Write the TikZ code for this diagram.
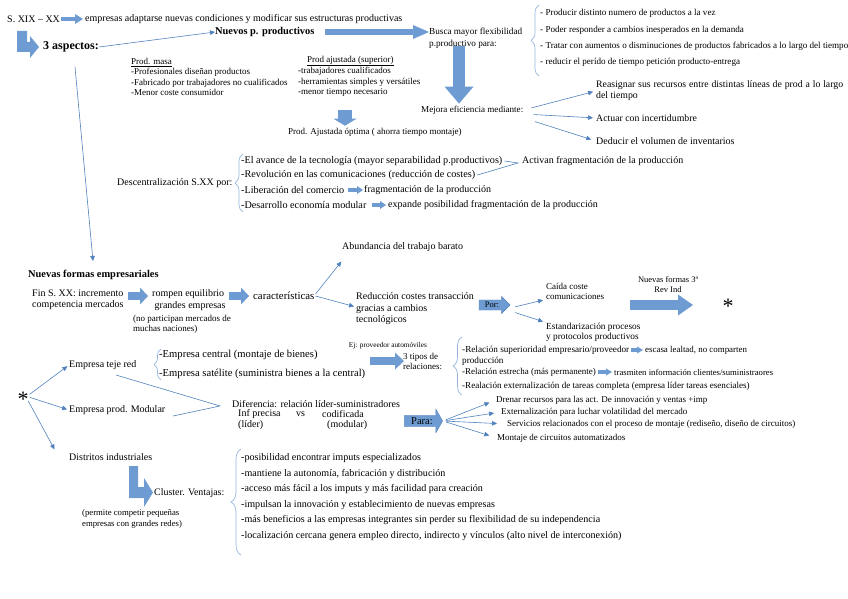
\documentclass[tikz,border=0pt]{standalone}
\usepackage{fontspec}
\setmainfont{Liberation Serif}
\usetikzlibrary{arrows.meta, shapes.arrows, decorations.pathreplacing, calc}
\definecolor{arrowblue}{RGB}{110,156,210}
\definecolor{lineblue}{RGB}{79,129,189}
\definecolor{bracecol}{RGB}{150,180,222}

\begin{document}
\begin{tikzpicture}[x=1pt, y=-1pt,
    txt/.style={anchor=west, inner sep=0pt, align=left, font=\fontsize{10}{11.5}\selectfont},
    sml/.style={txt, font=\fontsize{9}{10.3}\selectfont},
    hd/.style={txt, font=\bfseries\fontsize{10.4}{12}\selectfont},
    fat/.style n args={3}{draw=arrowblue, line width=#1pt, -{Triangle[width=#2pt, length=#3pt, line width=0pt]}},
    thin/.style={draw=lineblue, line width=0.6pt, -{Triangle[width=4.5pt, length=5pt]}},
    brc/.style={draw=bracecol, line width=0.7pt, decorate, decoration={brace, amplitude=#1pt}},
    blk/.style={single arrow, fill=arrowblue, draw=lineblue, line width=0.4pt, inner sep=2pt}]
    \useasboundingbox (0,0) rectangle (848,599);

    % S. XIX - XX
    \node[txt] (sxix) at (7,19) {S. XIX – XX};
    \node[txt] (empr) at (85,19) {empresas adaptarse nuevas condiciones y modificar sus estructuras productivas};
    \draw[fat={4}{10}{8}, shorten <=1pt, shorten >=2pt] (sxix.east) -- (empr.west);
    \fill[arrowblue] (17,31) -- (27,31) -- (27,42) -- (30,42) -- (30,36) -- (39,47) -- (30,58) -- (30,52) -- (17,52) -- cycle;
    \node[txt, font=\bfseries\fontsize{12}{13}\selectfont] (aspectos) at (43,47) {3 aspectos:};
    \node[hd] (nuevos) at (215,32) {Nuevos p. productivos};
    \draw[thin] (aspectos.east) -- (nuevos.west);

    % flexibilidad
    \node[txt, font=\fontsize{9.2}{12}\selectfont] (busca) at (429,38) {Busca mayor flexibilidad\\p.productivo para:};
    \draw[fat={6.5}{14}{16}, shorten <=10pt] (nuevos.east) -- (nuevos.east -| busca.west);
    \node[txt, font=\fontsize{9.1}{16.3}\selectfont] (flex) at (540,38) {- Producir distinto numero de productos a la vez\\- Poder responder a cambios inesperados en la demanda\\- Tratar con aumentos o disminuciones de productos fabricados a lo largo del tiempo\\- reducir el perído de tiempo petición producto-entrega};
    \draw[brc=8] (539,76) -- (539,5);

    \node[txt, font=\fontsize{9.1}{10.5}\selectfont] (mejora) at (421,110) {Mejora eficiencia mediante:};
    \coordinate (dn) at (459,0);
    \draw[fat={12}{29}{17}, shorten <=-2pt, shorten >=2pt] (busca.south -| dn) -- (mejora.north -| dn);
    \node[txt, font=\fontsize{9.8}{11}\selectfont, text width=247pt, align=justify] (reasig) at (596,91) {Reasignar sus recursos entre distintas líneas de prod a lo largo del tiempo};
    \node[txt, font=\fontsize{9.8}{11}\selectfont] (actuar) at (596,118) {Actuar con incertidumbre};
    \node[txt, font=\fontsize{10}{11}\selectfont] (deducir) at (596,141) {Deducir el volumen de inventarios};
    \draw[thin, shorten <=8pt, shorten >=3pt] (mejora.east) -- (reasig.west);
    \draw[thin, shorten <=10pt, shorten >=3pt] ($(mejora.east)+(0,4)$) -- (actuar.west);
    \draw[thin, shorten <=12pt, shorten >=5pt] ($(mejora.east)+(0,8)$) -- (deducir.west);

    % tipos de produccion
    \node[sml] (masa) at (131,77) {\underline{Prod. masa}\\-Profesionales diseñan productos\\-Fabricado por trabajadores no cualificados\\-Menor coste consumidor};
    \node[sml] (ajuhd) at (307,61) {\underline{Prod ajustada (superior)}};
    \node[sml] (ajust) at (298,82) {-trabajadores cualificados\\-herramientas simples y versátiles\\-menor tiempo necesario};
    \node[sml] (optima) at (288,132) {Prod. Ajustada óptima ( ahorra tiempo montaje)};
    \coordinate (dn2) at (345,0);
    \draw[fat={14}{23}{7}, shorten <=13pt, shorten >=2pt] (ajust.south -| dn2) -- (optima.north -| dn2);

    % descentralizacion
    \node[txt] (descen) at (117,183) {Descentralización S.XX por:};
    \draw[brc=8] (243,212) -- (243,154);
    \node[txt, font=\fontsize{10.2}{11.5}\selectfont] (d1) at (241,161) {-El avance de la tecnología (mayor separabilidad p.productivos)};
    \node[txt, font=\fontsize{10.2}{11.5}\selectfont] (d2) at (241,175) {-Revolución en las comunicaciones (reducción de costes)};
    \node[txt, font=\fontsize{10.2}{11.5}\selectfont] (d3) at (241,190) {-Liberación del comercio};
    \node[txt, font=\fontsize{10.2}{11.5}\selectfont] (d4) at (241,205) {-Desarrollo economía modular};
    \node[txt] (activan) at (522,161) {Activan fragmentación de la producción};
    \node[txt] (frag) at (364,190) {fragmentación de la producción};
    \node[txt] (expande) at (388,205) {expande posibilidad fragmentación de la producción};
    \coordinate (gta) at (518,163);
    \draw[draw=lineblue, line width=0.6pt] ($(d1.east)+(2,0)$) -- (gta) -- ($(d2.east)+(2,0)$);
    \draw[fat={4}{8}{6}, shorten <=4pt, shorten >=1pt] (d3.east) -- (frag.west);
    \draw[fat={4}{8}{6}, shorten <=5pt, shorten >=2pt] (d4.east) -- (expande.west);

    % nuevas formas empresariales
    \draw[thin] (75,67) -- (93,261);
    \node[hd] (nfe) at (28,275) {Nuevas formas empresariales};
    \node[txt] (fin) at (32,300) {Fin S. XX: incremento\\competencia mercados};
    \node[txt] (rompen) at (152,300) {rompen equilibrio\\\ grandes empresas};
    \node[txt, font=\fontsize{9}{10}\selectfont] (noparti) at (133,324) {(no participan mercados de\\muchas naciones)};
    \node[txt, font=\fontsize{10.8}{11.5}\selectfont] (caract) at (253,296) {características};
    \draw[fat={8}{17}{8}, shorten <=4pt, shorten >=4pt] (fin.east |- caract) -- (rompen.west |- caract);
    \draw[fat={8}{17}{8}, shorten <=3pt, shorten >=4pt] (rompen.east |- caract) -- (caract.west);
    \node[txt] (abund) at (342,247) {Abundancia del trabajo barato};
    \node[txt] (reduc) at (356,309) {Reducción costes transacción\\gracias a cambios\\tecnológicos};
    \draw[thin, shorten >=1pt] ($(caract.east)+(1,-2)$) -- ($(abund.south west)+(0,9)$);
    \draw[thin, shorten >=2pt] ($(caract.east)+(1,0)$) -- ($(reduc.west)+(0,-2)$);
    \node[blk, font=\fontsize{8.5}{9}\selectfont, minimum height=31pt, single arrow head extend=3.5pt] (por) at (492,305) {Por:};
    \node[txt, font=\fontsize{9}{10}\selectfont] (caida) at (546,291) {Caída coste\\comunicaciones};
    \node[txt, font=\fontsize{9.3}{10}\selectfont] (estand) at (546,332) {Estandarización procesos\\y protocolos productivos};
    \draw[thin, shorten <=5pt, shorten >=3pt] ($(por.east)+(0,3)$) -- (caida.south west);
    \draw[thin, shorten <=5pt, shorten >=3pt] ($(por.east)+(0,6)$) -- (estand.north west);
    \node[align=center, inner sep=0pt, font=\fontsize{8.5}{10}\selectfont] (nf3) at (668,285) {Nuevas formas 3ª\\Rev Ind};
    \node[inner sep=0pt, font=\fontsize{22}{22}\selectfont] (star1) at (728,306) {*};
    \coordinate (nfa) at (630,305);
    \coordinate (nfb) at (693,305);
    \draw[fat={10}{21}{15}] (nfa) -- (nfb);

    % tipos de empresa
    \node[inner sep=0pt, font=\fontsize{22}{22}\selectfont] (star2) at (23,399) {*};
    \node[txt] (teje) at (69,365) {Empresa teje red};
    \node[txt] (modular) at (69,410) {Empresa prod. Modular};
    \node[txt] (distr) at (69,457) {Distritos industriales};
    \draw[thin, shorten <=1pt, shorten >=2pt] ($(star2.east)+(0,-4)$) -- (teje.west);
    \draw[thin, shorten <=1pt, shorten >=2pt] ($(star2.east)+(0,-2)$) -- (modular.west);
    \draw[thin, shorten <=1pt, shorten >=1pt] ($(star2.east)+(-1,1)$) -- ($(distr.north west)+(-14,-3)$);
    \draw[brc=7] (161,380) -- (161,349);
    \node[txt, font=\fontsize{10.6}{11.5}\selectfont] (central) at (159,355) {-Empresa central (montaje de bienes)};
    \node[txt, font=\fontsize{10.6}{11.5}\selectfont] (satel) at (159,374) {-Empresa satélite (suministra bienes a la central)};
    \coordinate (gtb) at (220,406);
    \draw[draw=lineblue, line width=0.6pt] (116,375) -- (gtb) -- (173,416);
    \node[txt] (dif) at (232,404) {Diferencia: relación líder-suministradores};
    \node[txt] (infp) at (238,414) {Inf precisa};
    \node[txt] (vs) at (296,414) {vs};
    \node[txt] (codif) at (322,414) {codificada};
    \node[txt] (lider) at (238,425) {(líder)};
    \node[txt] (modu) at (327,425) {(modular)};

    % relaciones
    \node[inner sep=0pt, font=\fontsize{7.3}{8}\selectfont] (ej) at (388,346) {Ej: proveedor automóviles};
    \node[txt, font=\fontsize{9}{10}\selectfont] (tipos) at (403,361) {3 tipos de\\relaciones:};
    \coordinate (eja) at (370,361);
    \draw[fat={8}{17}{9}, shorten >=-1pt] (eja) -- (tipos.west);
    \draw[brc=9] (462,395) -- (462,337);
    \node[txt, font=\fontsize{9.2}{10}\selectfont] (r1) at (462,350) {-Relación superioridad empresario/proveedor};
    \node[txt, font=\fontsize{9.2}{10}\selectfont] (r1b) at (462,361) {producción};
    \node[txt, font=\fontsize{8.9}{10}\selectfont] (esc) at (645,350) {escasa lealtad, no comparten};
    \node[txt, font=\fontsize{9}{10}\selectfont] (r2) at (462,372) {-Relación estrecha (más permanente)};
    \node[txt, font=\fontsize{8.7}{10}\selectfont] (tras) at (614,372) {trasmiten información clientes/suministraores};
    \node[txt, font=\fontsize{9.1}{10}\selectfont] (r3) at (462,386) {-Realación externalización de tareas completa (empresa líder tareas esenciales)};
    \draw[fat={3.5}{7}{6}, shorten <=2pt, shorten >=2pt] (r1.east) -- (esc.west);
    \draw[fat={3.5}{7}{6}, shorten <=2pt, shorten >=2pt] (r2.east) -- (tras.west);

    % para
    \node[blk, font=\fontsize{10.5}{11}\selectfont, minimum height=38pt, single arrow head extend=6pt, single arrow tip angle=120] (para) at (422,421) {Para:};
    \node[txt, font=\fontsize{9}{10}\selectfont] (p1) at (496,400) {Drenar recursos para las act. De innovación y ventas +imp};
    \node[txt, font=\fontsize{9}{10}\selectfont] (p2) at (501,412) {Externalización para luchar volatilidad del mercado};
    \node[txt, font=\fontsize{9}{10}\selectfont] (p3) at (507,424) {Servicios relacionados con el proceso de montaje (rediseño, diseño de circuitos)};
    \node[txt, font=\fontsize{9}{10}\selectfont] (p4) at (497,438) {Montaje de circuitos automatizados};
    \draw[thin, shorten <=3pt, shorten >=7pt] (para.east) -- (p1.west);
    \draw[thin, shorten <=3pt, shorten >=7pt] (para.east) -- (p2.west);
    \draw[thin, shorten <=3pt, shorten >=10pt] (para.east) -- (p3.west);
    \draw[thin, shorten <=3pt, shorten >=8pt] (para.east) -- (p4.west);

    % distritos / cluster
    \fill[arrowblue] (129,466) -- (138,466) -- (138,487) -- (144,487) -- (144,478) -- (153,492.5) -- (144,507) -- (144,498) -- (129,498) -- cycle;
    \node[txt, font=\fontsize{9.9}{11}\selectfont] (clus) at (154,493) {Cluster. Ventajas:};
    \node[txt, font=\fontsize{8.7}{10.5}\selectfont] (permite) at (82,519) {(permite competir pequeñas\\empresas con grandes redes)};
    \draw[brc=10] (241,555) -- (241,449);
    \node[txt, font=\fontsize{10.1}{15.6}\selectfont] (ventajas) at (241,497) {-posibilidad encontrar imputs especializados\\-mantiene la autonomía, fabricación y distribución\\-acceso más fácil a los imputs y más facilidad para creación\\-impulsan la innovación y establecimiento de nuevas empresas\\-más beneficios a las empresas integrantes sin perder su flexibilidad de su independencia\\-localización cercana genera empleo directo, indirecto y vínculos (alto nivel de interconexión)};
\end{tikzpicture}
\end{document}
